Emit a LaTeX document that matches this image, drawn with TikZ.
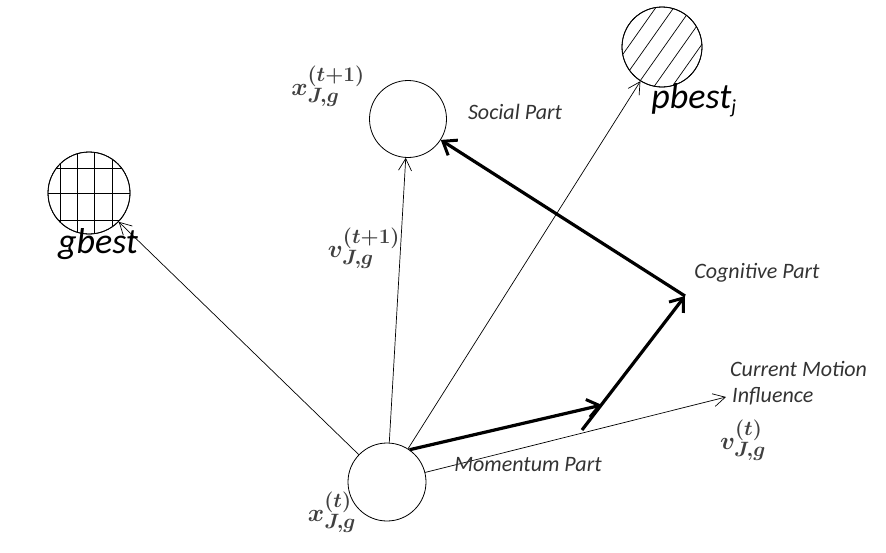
\documentclass[tikz,border=0pt]{standalone}
\usepackage{fontspec}
\setsansfont{Carlito}
\usetikzlibrary{arrows.meta}
\begin{document}
\begin{tikzpicture}[x=1pt,y=-1pt,
  ball/.style={circle,draw,line width=0.8pt,inner sep=0pt},
  thinarr/.style={line width=0.7pt,-{Straight Barb[length=12pt,width=13pt,line width=0.7pt]}},
  thickarr/.style={line width=3.2pt,-{Straight Barb[length=12pt,width=18pt,line width=3pt]}},
  lbl/.style={font=\sffamily\itshape\fontsize{22}{24}\selectfont,inner sep=0pt,text=black!80},
  big/.style={font=\sffamily\itshape\fontsize{36}{38}\selectfont,inner sep=0pt},
  mth/.style={font=\fontsize{31}{33}\selectfont\boldmath,inner sep=0pt,text=black!75}]
\useasboundingbox (0,0) rectangle (886,552);
% circles
\node[ball,minimum size=78pt] (xt) at (387,482) {};
\node[ball,minimum size=77pt] (xt1) at (408,119) {};
\node[ball,minimum size=80pt] (pbest) at (662,47) {};
\node[ball,minimum size=82pt] (gbest) at (89,193) {};
% hatching pbest
\begin{scope}
\clip (662,47) circle (40pt);
\foreach \d in {-52,-34,-16,2,20,38} {
  \draw[line width=0.7pt] (662+\d-60,47+85) -- (662+\d+60,47-85);
}
\end{scope}
% grid gbest
\begin{scope}
\clip (89,193) circle (41pt);
\foreach \xx in {60,77,94,112} \draw[line width=0.9pt] (\xx,140) -- (\xx,250);
\foreach \yy in {168,193,220} \draw[line width=0.9pt] (40,\yy) -- (140,\yy);
\end{scope}
\node[ball,minimum size=80pt] at (pbest) {};
\node[ball,minimum size=82pt] at (gbest) {};
% coordinates
\coordinate (cm) at (726,397);
\coordinate (mom) at (602,405);
\coordinate (cs) at (582,430);
\coordinate (cog) at (685,296);
% thin arrows
\draw[thinarr] (xt) -- (gbest);
\draw[thinarr] (xt) -- (xt1);
\draw[thinarr] (xt) -- (pbest);
\draw[thinarr] (xt) -- (cm);
% thick arrows
\draw[thickarr] (xt.55) -- (mom);
\draw[thickarr] (cs) -- (cog);
\draw[thickarr] (cog) -- (xt1);
% labels
\node[mth] (lxt1) at (328,86) {$x_{J,g}^{(t+1)}$};
\node[lbl] (lsoc) at (515,112) {Social Part};
\node[big] (lpb) at (694,100) {pbest\textsubscript{\fontsize{20}{22}\selectfont j}};
\node[big] (lgb) at (98,244) {gbest};
\node[mth] (lvt1) at (364,248) {$v_{J,g}^{(t+1)}$};
\node[lbl] (lcog) at (757,273) {Cognitive Part};
\node[lbl,anchor=west] (lcm1) at (730,369) {Current Motion};
\node[lbl,anchor=west] (lcm2) at (732,396) {Influence};
\node[mth] (lvt) at (743,440) {$v_{J,g}^{(t)}$};
\node[lbl] (lmom) at (528,465) {Momentum Part};
\node[mth] (lxt) at (332,512) {$x_{J,g}^{(t)}$};
\end{tikzpicture}
\end{document}
